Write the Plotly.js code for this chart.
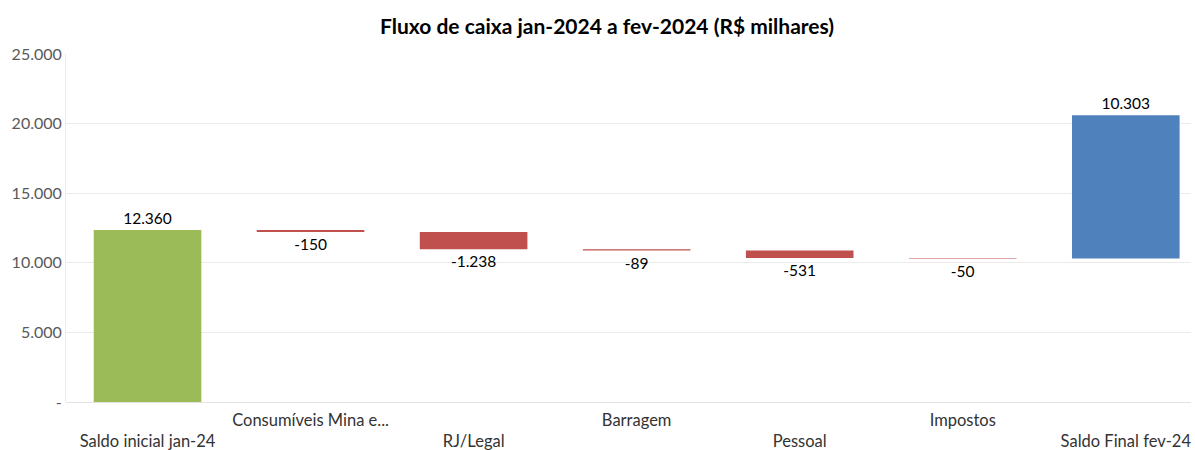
<!DOCTYPE html>
<html>
<head>
<meta charset="utf-8">
<script src="https://cdn.plot.ly/plotly-3.0.1.min.js"></script>
<style>html,body{margin:0;padding:0;background:#fff;}#chart{width:1195px;height:450px;}</style>
</head>
<body>
<div id="chart"></div>
<script>
const categories = ["Saldo inicial jan-24", "Consumíveis Mina e...", "RJ/Legal", "Barragem", "Pessoal", "Impostos", "Saldo Final fev-24"];
const values = [12360, -150, -1238, -89, -531, -50, 10303];
const kinds = ["start", "delta", "delta", "delta", "delta", "delta", "end"];
const yTickVals = [0, 5000, 10000, 15000, 20000, 25000];
const yTickText = ["-", "5.000", "10.000", "15.000", "20.000", "25.000"];

const colorMap = {start: "#9BBB59", delta: "#C0504D", end: "#4F81BD"};

// running bases
let running = 0;
const bases = [];
values.forEach((v, i) => {
  if (kinds[i] === "start") { bases.push(0); running = v; }
  else if (kinds[i] === "delta") { bases.push(running); running += v; }
  else { bases.push(running); }
});

// staggered tick labels: even index lower line, odd index upper line
const tickText = categories.map((c, i) => i % 2 === 0 ? "<br>" + c : c);
const xIdx = categories.map((c, i) => i);

const font = "Lato, 'Open Sans', sans-serif";

const trace = {
  type: "bar",
  x: xIdx,
  y: values,
  base: bases,
  width: 0.66,
  marker: {color: kinds.map(k => colorMap[k])},
  texttemplate: "%{y:,.0f}",
  textposition: "outside",
  textfont: {family: font, size: 15.5, color: "#000"},
  cliponaxis: false,
  hoverinfo: "skip"
};

const layout = {
  width: 1195, height: 450,
  margin: {l: 66, r: 4, t: 54, b: 48},
  paper_bgcolor: "#fff", plot_bgcolor: "#fff",
  separators: ",.",
  showlegend: false,
  title: {text: "<b>Fluxo de caixa jan-2024 a fev-2024 (R$ milhares)</b>", x: 0.508, xanchor: "center", y: 0.94, yanchor: "middle",
          font: {family: font, size: 21, color: "#000"}},
  xaxis: {
    range: [-0.5, 6.4],
    tickvals: xIdx, ticktext: tickText,
    showgrid: false, zeroline: false, showline: false, ticks: "",
    ticklabelstandoff: 6,
    tickfont: {family: font, size: 16.5, color: "#333"},
    tickangle: 0, automargin: false
  },
  yaxis: {
    range: [0, 25000],
    tickvals: yTickVals, ticktext: yTickText,
    showgrid: true, gridcolor: "#ebebeb", gridwidth: 1,
    zeroline: true, zerolinecolor: "#e3e3e3",
    showline: true, linecolor: "#ebebeb",
    ticks: "", ticklabelstandoff: 0,
    tickfont: {family: font, size: 16, color: "#595959"},
    automargin: false
  },
  font: {family: font}
};

Plotly.newPlot("chart", [trace], layout, {staticPlot: true, displayModeBar: false});
</script>
</body>
</html>
